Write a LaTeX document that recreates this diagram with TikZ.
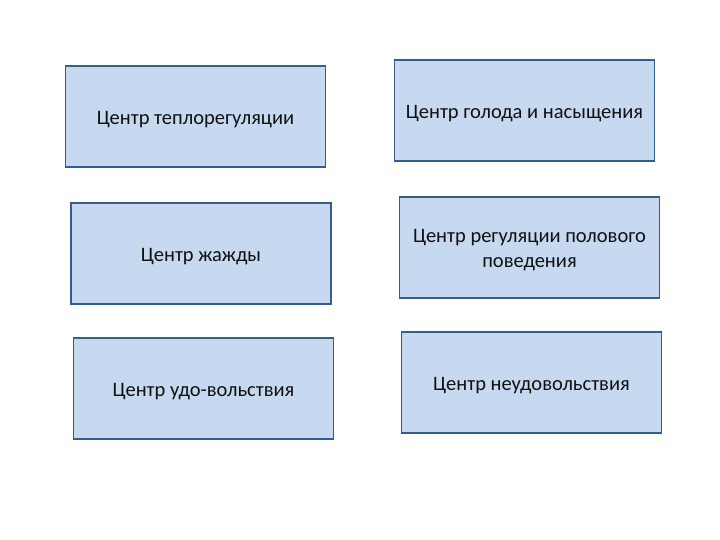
\documentclass[tikz,border=0pt]{standalone}
\usepackage{fontspec}
\setmainfont{Carlito}
\definecolor{boxfill}{HTML}{C6D9F1}
\definecolor{boxline}{HTML}{385D8A}
\definecolor{txt}{HTML}{111111}
\begin{document}
\begin{tikzpicture}[x=1pt,y=-1pt,
  cbox/.style={draw=boxline,line width=1.8pt,fill=boxfill,minimum width=260pt,minimum height=101pt,inner sep=0pt},
  ctext/.style={inner sep=0pt,text=txt,font=\fontsize{20.5}{25}\selectfont,align=center,yshift=-3pt}]
\useasboundingbox (0,0) rectangle (720,540);
\node[cbox] (b1) at (195.5,116.5) {};
\node[cbox] (b2) at (524.5,110.5) {};
\node[cbox] (b3) at (201,253.5) {};
\node[cbox] (b4) at (529.5,247.5) {};
\node[cbox] (b5) at (203.5,388.5) {};
\node[cbox] (b6) at (531.5,382.5) {};
\node[ctext] (t1) at (b1.center) {Центр теплорегуляции};
\node[ctext] (t2) at (b2.center) {Центр голода и насыщения};
\node[ctext] (t3) at (b3.center) {Центр жажды};
\node[ctext] (t4) at (b4.center) {Центр регуляции полового\\поведения};
\node[ctext] (t5) at (b5.center) {Центр удо-вольствия};
\node[ctext] (t6) at (b6.center) {Центр неудовольствия};
\end{tikzpicture}
\end{document}
